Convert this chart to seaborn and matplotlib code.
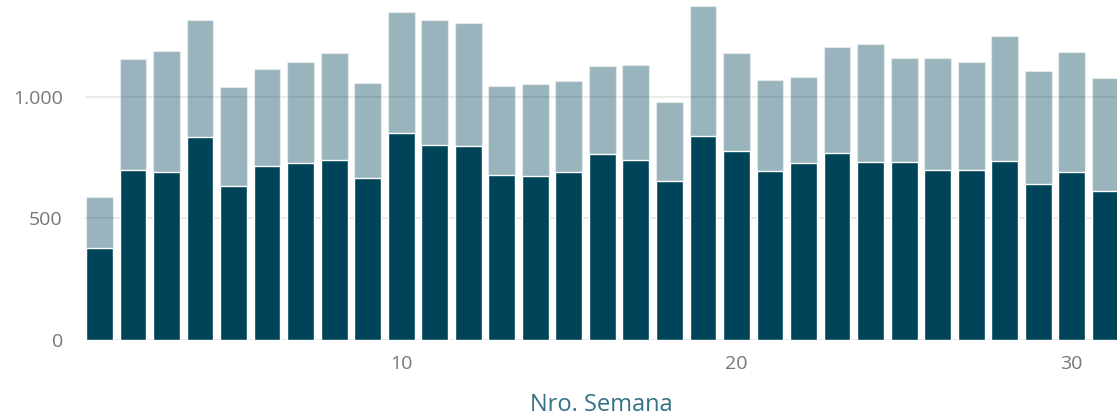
import matplotlib
matplotlib.use("Agg")
import matplotlib.pyplot as plt
import seaborn as sns
import pandas as pd

# weekly totals
weeks = list(range(1, 32))
base = [377, 697, 689, 833, 632, 716, 726, 740, 667, 849,
        800, 799, 677, 675, 689, 763, 741, 652, 840, 778,
        696, 726, 767, 733, 733, 697, 697, 734, 643, 690, 611]
total = [589, 1156, 1188, 1314, 1039, 1112, 1143, 1181, 1056, 1346,
         1315, 1302, 1045, 1051, 1063, 1125, 1129, 979, 1371, 1181,
         1067, 1082, 1203, 1215, 1159, 1159, 1143, 1248, 1104, 1184, 1077]
xticks = [10, 20, 30]
yticks = [0, 500, 1000]
ytick_labels = ["0", "500", "1.000"]

DARK = "#004459"

df = pd.DataFrame({"semana": weeks, "base": base, "total": total})

sns.set_style("white")
plt.rcParams["font.family"] = ["Open Sans", "DejaVu Sans"]

fig = plt.figure(figsize=(11.17, 4.16), dpi=100)
ax = fig.add_axes([85 / 1117, 76 / 416, 1032 / 1117, 340 / 416])

ax.set_axisbelow(True)
ax.grid(axis="y", color="#e6e6e6", linewidth=1.2)

sns.barplot(data=df, x="semana", y="total", native_scale=True, color=DARK,
            alpha=0.4, saturation=1, width=0.8, ax=ax)
sns.barplot(data=df, x="semana", y="base", native_scale=True, color=DARK,
            saturation=1, width=0.8, ax=ax)

ax.set_xlim(0.57, 31.35)
ax.set_ylim(0, 1397)
ax.set_xticks(xticks)
ax.set_yticks(yticks)
ax.set_yticklabels(ytick_labels)
ax.tick_params(axis="both", length=0, labelsize=14, labelcolor="#777777")
ax.tick_params(axis="y", pad=16)
ax.tick_params(axis="x", pad=11)
ax.set_ylabel("")
ax.set_xlabel("Nro. Semana", fontsize=17, color="#347186", labelpad=14)
sns.despine(ax=ax, left=True, bottom=True)

fig.savefig("out.png", dpi=100)
